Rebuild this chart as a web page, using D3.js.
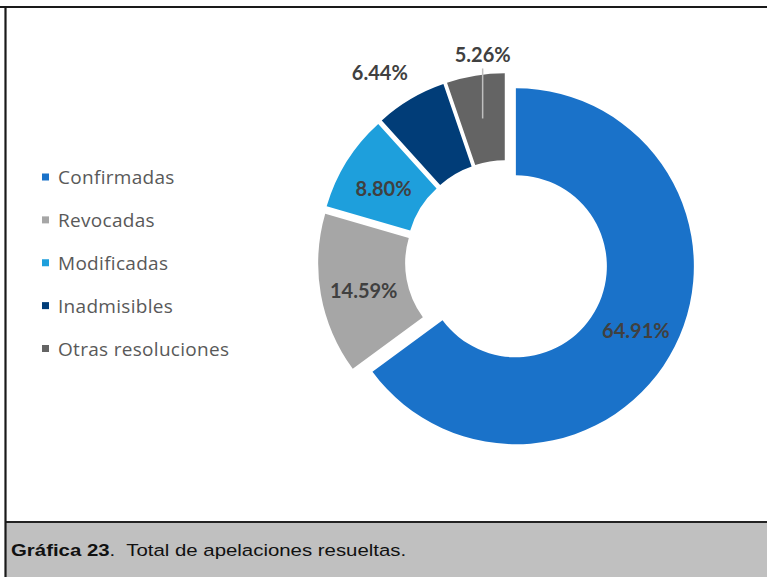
<!DOCTYPE html>
<html>
<head>
<meta charset="utf-8">
<script src="https://cdn.jsdelivr.net/npm/d3@7"></script>
<style>
  html, body { margin: 0; padding: 0; background: #fff; }
  svg { display: block; }
</style>
</head>
<body>
<svg id="chart" width="767" height="577"></svg>
<script>
// ---- data ----
const categories = ["Confirmadas", "Revocadas", "Modificadas", "Inadmisibles", "Otras resoluciones"];
const values = [64.91, 14.59, 8.80, 6.44, 5.26];
const valueLabels = ["64.91%", "14.59%", "8.80%", "6.44%", "5.26%"];
const colors = ["#1a72c9", "#a6a6a6", "#1e9fdc", "#013d78", "#646464"];
const captionBold = "Gráfica 23";
const captionText = ".  Total de apelaciones resueltas.";

// ---- layout ----
const W = 767, H = 577;
const svg = d3.select("#chart");

svg.append("rect").attr("x", 0).attr("y", 0).attr("width", W).attr("height", H).attr("fill", "#fff");
// caption band
svg.append("rect").attr("x", 5).attr("y", 522).attr("width", W - 5).attr("height", H - 522).attr("fill", "#c0c0c0");
svg.append("line").attr("x1", 5).attr("x2", W).attr("y1", 522).attr("y2", 522)
  .attr("stroke", "#222").attr("stroke-width", 2);
svg.append("line").attr("x1", 0).attr("x2", W).attr("y1", 7).attr("y2", 7)
  .attr("stroke", "#1a1a1a").attr("stroke-width", 2.2);
svg.append("line").attr("x1", 5.5).attr("x2", 5.5).attr("y1", 6).attr("y2", H)
  .attr("stroke", "#1a1a1a").attr("stroke-width", 2.2);

const cap = svg.append("text")
  .attr("transform", "translate(11,556) scale(1.2,1)")
  .attr("font-family", "'Liberation Sans', Arial, sans-serif")
  .attr("font-size", 17)
  .attr("fill", "#111").style("white-space", "pre");
cap.append("tspan").attr("font-weight", "bold").text(captionBold);
cap.append("tspan").text(captionText);

// ---- donut ----
const cx = 506.5, cy = 261.5;
const outerR = 178, innerR = 91, explode = 10.5;

const pie = d3.pie().value(d => d).sort(null).startAngle(0).endAngle(2 * Math.PI);
const arcs = pie(values);
const arc = d3.arc().innerRadius(innerR).outerRadius(outerR);

const g = svg.append("g").attr("transform", `translate(${cx},${cy})`);

function offset(a, dist) {
  const m = (a.startAngle + a.endAngle) / 2;
  return [Math.sin(m) * dist, -Math.cos(m) * dist];
}

const slices = g.selectAll("g.slice").data(arcs).join("g")
  .attr("class", "slice")
  .attr("transform", d => { const o = offset(d, explode); return `translate(${o[0]},${o[1]})`; });

slices.append("path").attr("d", arc).attr("fill", (d, i) => colors[i]);

const labelFont = "Lato, 'Open Sans', sans-serif";
const outsideShift = [null, null, null, [-53, -65], [0, -64]];

slices.each(function (d, i) {
  const c = arc.centroid(d);
  const sel = d3.select(this);
  let x = c[0], y = c[1] + 3;
  if (outsideShift[i]) {
    x = c[0] + outsideShift[i][0];
    y = c[1] + outsideShift[i][1];
    if (i === 4) {
      sel.append("line").attr("x1", c[0]).attr("x2", c[0]).attr("y1", c[1]).attr("y2", y + 14)
        .attr("stroke", "#bfbfbf").attr("stroke-width", 1.5);
    }
  }
  sel.append("text").attr("x", x).attr("y", y)
    .attr("text-anchor", "middle").attr("dominant-baseline", "central")
    .attr("font-family", labelFont).attr("font-weight", "bold").attr("font-size", 20)
    .attr("fill", "#404040").text(valueLabels[i]);
});

// ---- legend ----
const legendY = d3.scalePoint().domain(categories).range([177, 348.5]);
const lg = svg.append("g");
const items = lg.selectAll("g").data(categories).join("g")
  .attr("transform", d => `translate(42,${legendY(d)})`);
items.append("rect").attr("x", 0).attr("y", -3.5).attr("width", 7).attr("height", 7)
  .attr("fill", (d, i) => colors[i]);
items.append("text").attr("x", 16).attr("y", 0).attr("dominant-baseline", "central")
  .attr("font-family", "'Open Sans', Lato, sans-serif").attr("font-size", 19)
  .attr("letter-spacing", 0.3).attr("fill", "#595959")
  .text(d => d);
</script>
</body>
</html>
